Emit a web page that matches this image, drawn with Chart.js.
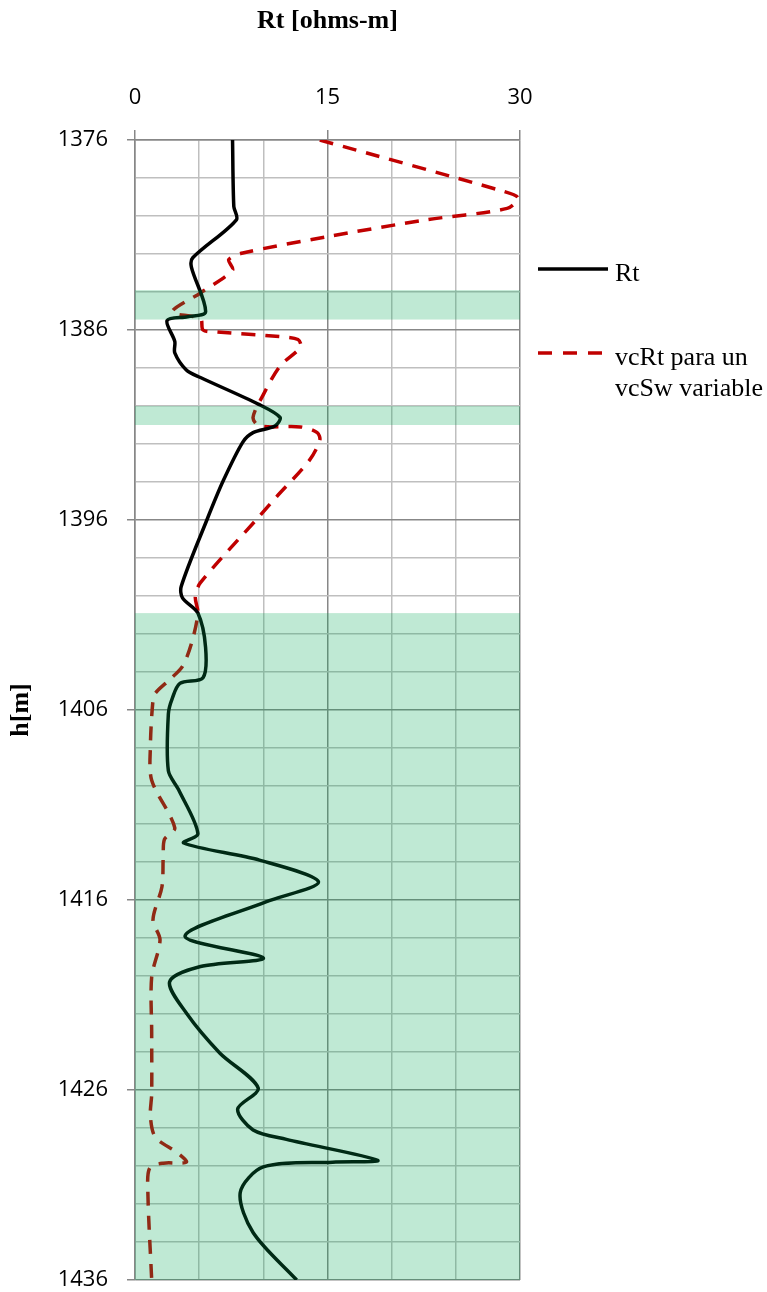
<!DOCTYPE html>
<html>
<head>
<meta charset="utf-8">
<script src="https://cdn.jsdelivr.net/npm/chart.js@4.4.1/dist/chart.umd.min.js"></script>
<style>
    body { margin: 0; background: #fff; }
    #wrap { position: relative; width: 767px; height: 1292px; }
    #legend { position: absolute; left: 538px; top: 257px; font-family: "Liberation Serif", "Times New Roman", serif; font-size: 26px; color: #000; }
    .item { position: absolute; left: 0; display: flex; align-items: flex-start; white-space: nowrap; }
    .item svg { margin-top: 9px; margin-right: 7px; }
    .item span { line-height: 31px; }
</style>
</head>
<body>
<div id="wrap">
    <canvas id="chart" width="767" height="1292"></canvas>
    <div id="legend"></div>
</div>
<script>
const rtDepth = [1376, 1379.5, 1380.2, 1382.2, 1382.7, 1385.05, 1385.3, 1385.5, 1386.6, 1387.2,
    1388.1, 1388.5, 1389.9, 1390.6, 1391.05, 1391.4, 1391.9, 1393.9, 1396, 1399.5,
    1400.1, 1400.9, 1402.7, 1404.3, 1404.6, 1405.4, 1406.2, 1409.2, 1410.2, 1412.5,
    1413.0, 1413.9, 1415.05, 1416.1, 1417.9, 1419.05, 1419.5, 1420.3, 1421.95, 1424.05,
    1425.9, 1427.0, 1428.1, 1428.6, 1429.7, 1429.8, 1430.05, 1431.4, 1433.5, 1436];
const rtValues = [7.6, 7.7, 7.9, 4.5, 4.4, 5.5, 4.1, 2.5, 3.1, 3.1,
    4.0, 5.1, 9.6, 11.3, 10.9, 9.2, 8.4, 6.9, 5.6, 3.6,
    3.7, 4.9, 5.5, 5.3, 3.5, 2.9, 2.6, 2.6, 3.4, 4.9,
    3.8, 9.7, 14.3, 10.2, 3.9, 10.0, 5.1, 2.7, 4.0, 6.6,
    9.6, 8.0, 9.2, 11.8, 18.9, 15.4, 10.0, 8.2, 9.2, 12.6];

const vcDepth = [1376, 1378.7, 1379.05, 1379.6, 1380.2, 1381.1, 1381.95, 1382.3, 1382.85, 1384.05,
    1385.05, 1385.4, 1386.0, 1386.1, 1386.35, 1386.5, 1386.9, 1387.9, 1389.4, 1390.6,
    1391.05, 1391.1, 1391.4, 1391.8, 1392.85, 1394.8, 1395.8, 1399.3, 1400.05, 1400.9,
    1402.5, 1403.7, 1404.4, 1405.1, 1405.5, 1407.9, 1409.7, 1412.2, 1412.8, 1413.7,
    1415.3, 1417.05, 1418.1, 1420.05, 1423, 1426.2, 1427.4, 1428.5, 1429.3, 1429.8,
    1429.85, 1430.1, 1431.3, 1436];
const vcValues = [14.4, 28.7, 29.85, 29.0, 22.7, 14.9, 8.4, 7.3, 7.6, 5.1,
    2.9, 5.1, 5.3, 6.4, 11.3, 12.7, 12.9, 11.3, 10.0, 9.2,
    9.7, 12.9, 14.2, 14.4, 13.6, 11.0, 9.7, 5.1, 4.7, 4.9,
    4.4, 3.7, 2.7, 1.6, 1.4, 1.2, 1.3, 3.1, 2.3, 2.2,
    2.1, 1.4, 1.95, 1.3, 1.3, 1.3, 1.2, 1.6, 3.3, 4.0,
    2.2, 1.15, 1.0, 1.3];

// shaded intervals (top, bottom depth)
const bandTop = [1383.9, 1390, 1400.9];
const bandBottom = [1385.45, 1391, 1436];

const seriesNames = ['Rt', 'vcRt para un vcSw variable'];

const toPoints = (depths, values) => depths.map((d, i) => ({ x: values[i], y: d }));

const bandPlugin = {
    id: 'bands',
    afterDatasetsDraw(chart) {
        const { ctx, scales: { x, y } } = chart;
        ctx.save();
        ctx.fillStyle = 'rgba(0,167,83,0.25)';
        bandTop.forEach((top, i) => {
            const y0 = y.getPixelForValue(top);
            const y1 = y.getPixelForValue(bandBottom[i]);
            const x0 = x.getPixelForValue(0);
            const x1 = x.getPixelForValue(30);
            ctx.fillRect(x0, y0, x1 - x0, y1 - y0);
        });
        ctx.restore();
    }
};

const major = '#878787';
const minor = '#BFBFBF';

new Chart(document.getElementById('chart'), {
    type: 'scatter',
    data: {
        datasets: [{
            label: seriesNames[0],
            data: toPoints(rtDepth, rtValues),
            showLine: true,
            borderColor: '#000000',
            borderWidth: 3.5,
            pointRadius: 0,
            tension: 0.3
        }, {
            label: seriesNames[1],
            data: toPoints(vcDepth, vcValues),
            showLine: true,
            borderColor: '#C00000',
            borderWidth: 3.5,
            borderDash: [14, 10],
            pointRadius: 0,
            tension: 0.3
        }]
    },
    options: {
        responsive: false,
        animation: false,
        devicePixelRatio: 1,
        layout: { padding: { left: 0, top: 0, right: 247, bottom: 12 } },
        plugins: { legend: { display: false }, tooltip: { enabled: false } },
        scales: {
            x: {
                type: 'linear',
                position: 'top',
                min: 0,
                max: 30,
                afterFit: s => { s.height = 140; s.paddingLeft = 0; s.paddingRight = 0; },
                ticks: {
                    stepSize: 5,
                    autoSkip: false,
                    maxRotation: 0,
                    padding: 19,
                    color: '#000',
                    font: { family: '"Open Sans"', size: 22 },
                    callback: v => (v % 15 === 0 ? v : '')
                },
                grid: {
                    color: c => (c.tick && c.tick.value % 15 === 0 ? major : minor),
                    tickColor: c => (c.tick && c.tick.value % 15 === 0 ? major : 'transparent'),
                    lineWidth: 1.5,
                    tickLength: 10
                },
                border: { color: major, width: 1.5 },
                title: {
                    display: true,
                    text: 'Rt [ohms-m]',
                    color: '#000',
                    font: { family: '"Liberation Serif"', size: 26, weight: 'bold' },
                    padding: { top: 6, bottom: 0 }
                }
            },
            y: {
                type: 'linear',
                reverse: true,
                min: 1376,
                max: 1436,
                afterFit: s => { s.width = 135; s.paddingTop = 0; s.paddingBottom = 0; },
                ticks: {
                    stepSize: 2,
                    autoSkip: false,
                    padding: 19,
                    color: '#000',
                    font: { family: '"Open Sans"', size: 22 },
                    callback: v => ((v - 1376) % 10 === 0 ? v : '')
                },
                grid: {
                    color: c => (c.tick && (c.tick.value - 1376) % 10 === 0 ? major : minor),
                    tickColor: c => (c.tick && (c.tick.value - 1376) % 10 === 0 ? major : 'transparent'),
                    lineWidth: 1.5,
                    tickLength: 8
                },
                border: { color: major, width: 1.5 },
                title: {
                    display: true,
                    text: 'h[m]',
                    color: '#000',
                    font: { family: '"Liberation Serif"', size: 26, weight: 'bold' },
                    padding: { top: 6, bottom: 0 }
                }
            }
        }
    },
    plugins: [bandPlugin]
});

// legend drawn beside the plot
const legend = document.getElementById('legend');
legend.innerHTML = `
    <div class="item" style="top:0px">
        <svg width="70" height="6"><line x1="0" y1="3" x2="70" y2="3" stroke="#000" stroke-width="3.5"/></svg>
        <span>${seriesNames[0]}</span>
    </div>
    <div class="item" style="top:84px">
        <svg width="70" height="6"><line x1="0" y1="3" x2="70" y2="3" stroke="#C00000" stroke-width="3.5" stroke-dasharray="14 11"/></svg>
        <span>vcRt para un<br>vcSw variable</span>
    </div>
`;
</script>
</body>
</html>
